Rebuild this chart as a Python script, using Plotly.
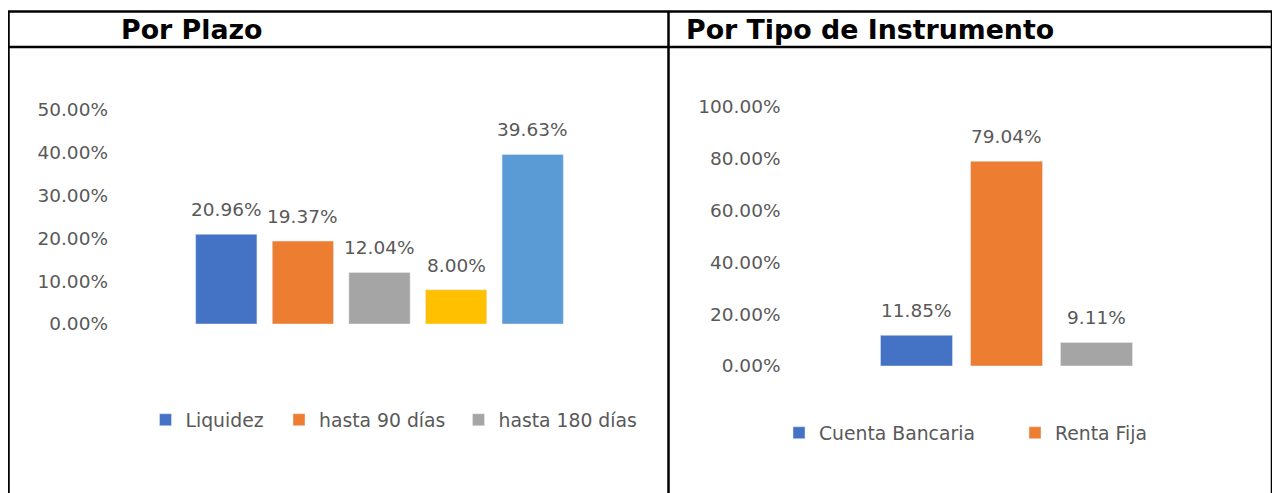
import plotly.graph_objects as go

W, H = 1280, 493
OX, OY = 8, 8  # page body margin of the browser

# ---- data ----
plazo_cats = ["Liquidez", "hasta 90 días", "hasta 180 días", "hasta 360 días", "más de 360 días"]
plazo_vals = [0.2096, 0.1937, 0.1204, 0.0800, 0.3963]
plazo_colors = ["#4472C4", "#ED7D31", "#A5A5A5", "#FFC000", "#5B9BD5"]
plazo_legend = [True, True, True, False, False]

tipo_cats = ["Cuenta Bancaria", "Renta Fija", "Renta Variable"]
tipo_vals = [0.1185, 0.7904, 0.0911]
tipo_colors = ["#4472C4", "#ED7D31", "#A5A5A5"]
tipo_legend = [True, True, False]

title_left = "Por Plazo"
title_right = "Por Tipo de Instrumento"

FONT = "DejaVu Sans"
GREY = "#595959"


def px(x):
    return max(0.0, (x - OX) / W)


def py(y):
    return min(1.0, 1 - (y - OY) / H)


# one legend box per visible entry (left x in px, centre y in px)
legend_slots = {
    "legend": (145.5, 420),
    "legend2": (279, 420),
    "legend3": (458.5, 420),
    "legend4": (779, 433),
    "legend5": (1015, 433),
}
plazo_legend_ids = ["legend", "legend2", "legend3", "legend", "legend"]
tipo_legend_ids = ["legend4", "legend5", "legend4"]

labfont = dict(family=FONT, size=18.5, color=GREY)
fig = go.Figure()

for c, v, col, sl, lg in zip(plazo_cats, plazo_vals, plazo_colors, plazo_legend, plazo_legend_ids):
    fig.add_trace(go.Bar(x=[c], y=[v], name=c, marker_color=col, showlegend=sl,
                         xaxis="x", yaxis="y", legend=lg))
    fig.add_annotation(x=c, y=v, xref="x", yref="y", text=f"{v*100:.2f}%",
                       showarrow=False, yanchor="bottom", yshift=12, font=labfont)

for c, v, col, sl, lg in zip(tipo_cats, tipo_vals, tipo_colors, tipo_legend, tipo_legend_ids):
    fig.add_trace(go.Bar(x=[c], y=[v], name=c, marker_color=col, showlegend=sl,
                         xaxis="x2", yaxis="y2", legend=lg))
    fig.add_annotation(x=c, y=v, xref="x2", yref="y2", text=f"{v*100:.2f}%",
                       showarrow=False, yanchor="bottom", yshift=12, font=labfont)

axfont = dict(family=FONT, size=18.5, color=GREY)
legfont = dict(family=FONT, size=18.8, color=GREY)

fig.update_layout(
    width=W, height=H,
    margin=dict(l=0, r=0, t=0, b=0, pad=0, autoexpand=False),
    paper_bgcolor="white", plot_bgcolor="white",
    barmode="relative",
    bargap=0.2,
    showlegend=True,
    xaxis=dict(domain=[px(188), px(571)], range=[-0.5, 4.5], showticklabels=False,
               showgrid=False, zeroline=False, showline=False, categoryorder="array",
               categoryarray=plazo_cats, anchor="y", fixedrange=True, automargin=False),
    yaxis=dict(domain=[py(324), py(110)], range=[0, 0.5], dtick=0.1, tickformat=".2%",
               showgrid=False, zeroline=False, showline=False, anchor="x",
               tickfont=axfont, ticklabelstandoff=79, fixedrange=True, automargin=False),
    xaxis2=dict(domain=[px(871.5), px(1141.5)], range=[-0.5, 2.5], showticklabels=False,
                showgrid=False, zeroline=False, showline=False, categoryorder="array",
                categoryarray=tipo_cats, anchor="y2", fixedrange=True, automargin=False),
    yaxis2=dict(domain=[py(366), py(107)], range=[0, 1], dtick=0.2, tickformat=".2%",
                showgrid=False, zeroline=False, showline=False, anchor="x2",
                tickfont=axfont, ticklabelstandoff=90, fixedrange=True, automargin=False),
)

for lid, (lx, ly) in legend_slots.items():
    fig.update_layout({lid: dict(orientation="h", x=px(lx), y=py(ly), xanchor="left",
                                 yanchor="middle", font=legfont, bgcolor="rgba(0,0,0,0)",
                                 itemclick=False, itemdoubleclick=False)})

# table borders
line = dict(color="black", width=2.5)
shapes = [
    dict(type="line", xref="paper", yref="paper", x0=px(7), x1=px(1272), y0=py(11.5), y1=py(11.5), line=line),
    dict(type="line", xref="paper", yref="paper", x0=px(7), x1=px(1272), y0=py(47), y1=py(47), line=line),
    dict(type="line", xref="paper", yref="paper", x0=px(8.5), x1=px(8.5), y0=py(11.5), y1=0, line=line),
    dict(type="line", xref="paper", yref="paper", x0=px(668.5), x1=px(668.5), y0=py(11.5), y1=0, line=line),
    dict(type="line", xref="paper", yref="paper", x0=px(1272), x1=px(1272), y0=py(11.5), y1=0, line=line),
]
fig.update_layout(shapes=shapes)

hfont = dict(family="DejaVu Sans", size=26.8, color="black")
fig.add_annotation(xref="paper", yref="paper", x=px(192), y=py(29), text=f"<b>{title_left}</b>",
                   showarrow=False, xanchor="center", yanchor="middle", font=hfont)
fig.add_annotation(xref="paper", yref="paper", x=px(684), y=py(29), text=f"<b>{title_right}</b>",
                   showarrow=False, xanchor="left", yanchor="middle", font=hfont)

fig.write_html("out.html")
